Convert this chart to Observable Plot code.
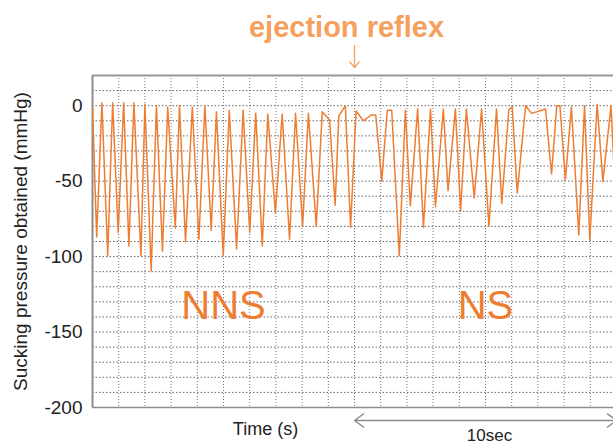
<!DOCTYPE html>
<html><head><meta charset="utf-8">
<script src="https://cdn.jsdelivr.net/npm/d3@7"></script>
<script src="https://cdn.jsdelivr.net/npm/@observablehq/plot@0.6"></script>
<style>html,body{margin:0;padding:0;background:#fff;overflow:hidden;} svg{display:block;}</style>
</head><body><div id="chart"></div>
<script>
const timeSec = [0, 0.16, 0.36, 0.58, 0.77, 0.98, 1.19, 1.39, 1.58, 1.85,
  2.00, 2.24, 2.44, 2.67, 2.87, 3.16, 3.32, 3.55, 3.81, 4.06,
  4.29, 4.53, 4.73, 4.99, 5.22, 5.50, 5.75, 6.00, 6.23, 6.48,
  6.69, 6.98, 7.24, 7.52, 7.75, 8.02, 8.24, 8.54, 8.77, 9.05,
  9.26, 9.40, 9.65, 9.85, 10.06, 10.34, 10.63, 10.81, 11.04, 11.25,
  11.42, 11.71, 11.94, 12.13, 12.41, 12.63, 12.90, 13.09, 13.39, 13.57,
  13.85, 14.05, 14.27, 14.57, 14.85, 15.13, 15.42, 15.62, 15.89, 16.02,
  16.21, 16.53, 16.76, 17.29, 17.52, 17.72, 17.84, 18.05, 18.28, 18.56,
  18.78, 18.98, 19.26, 19.48, 19.79, 20.0];
const pressure = [-1, -87, 2, -99.5, 2, -84, 2, -93, 2, -99.5,
  1, -109.5, 0, -96.5, -1, -81, 0, -90, -1, -88.5,
  0, -82.5, -4, -99.5, -3, -95, -3, -84, -5, -93,
  -5.5, -71, -5.5, -88.5, -5, -80, -5, -80, -4, -9.5,
  -66, -7, 0, -80.5, -3.5, -10, -6.2, -6.2, -50, -3,
  -3, -99.5, -3, -66.4, -2, -80.7, -2.2, -67, -2.2, -56.4,
  -2.2, -69.5, -2.2, -61.2, -2.2, -80, -2.2, -64.8, -2.9, -0.7,
  -57.8, 0, -5.1, -2.2, -45.3, 0, 0, -49, -0.7, -85.6,
  0, -89, 1, -50.2, 0, -75];
const yTickValues = [0, -50, -100, -150, -200];
const xGridValues = [1,2,3,4,5,6,7,8,9,10,11,12,13,14,15,16,17,18,19];
const yGridValues = [10,0,-10,-20,-30,-40,-50,-60,-70,-80,-90,-100,-110,-120,-130,-140,-150,-160,-170,-180,-190];
const phaseLabels = ["NNS", "NS"];
const phaseCenters = [5, 15];
const titleText = "ejection reflex";
const ejectionTime = 10;
const yLabel = "Sucking pressure obtained (mmHg)";
const xLabel = "Time (s)";
const spanLabel = "10sec";
const spanStart = 10;
const spanEnd = 20;

const series = timeSec.map((t, i) => ({t, p: pressure[i]}));
const phases = phaseLabels.map((label, i) => ({label, t: phaseCenters[i]}));
const spanMid = (spanStart + spanEnd) / 2;
const spanArrows = [{from: spanMid, to: spanStart}, {from: spanMid, to: spanEnd}];

const FONT = "'Liberation Sans', Helvetica, Arial, sans-serif";
const orange = "#ef7d31";
const lightOrange = "#f5a05c";

const chart = Plot.plot({
  width: 613, height: 445,
  marginLeft: 92, marginRight: 0, marginTop: 75, marginBottom: 38,
  x: {domain: [0, 19.885], axis: null},
  y: {domain: [-200, 20], axis: null},
  style: {fontFamily: FONT, background: "#fff", overflow: "visible"},
  marks: [
    Plot.gridX(xGridValues, {stroke: "#666", strokeOpacity: 0.9, strokeDasharray: "1,2"}),
    Plot.gridY(yGridValues, {stroke: "#555", strokeOpacity: 0.9, strokeDasharray: "1.5,2"}),
    Plot.ruleX([0], {stroke: "#8c8c8c", strokeWidth: 2}),
    Plot.ruleY([20], {stroke: "#999", strokeWidth: 2}),
    Plot.ruleY([-200], {stroke: "#8c8c8c", strokeWidth: 1.5}),
    Plot.axisY(yTickValues, {tickSize: 0, tickPadding: 10, fontSize: 19, fill: "#222", label: null, tickFormat: d => String(d)}),
    Plot.text([yLabel], {frameAnchor: "left", dx: -72, rotate: -90, fontSize: 19, fill: "#222", textAnchor: "middle", lineAnchor: "middle"}),
    Plot.line(series, {x: "t", y: "p", stroke: orange, strokeWidth: 1.5, clip: true}),
    Plot.text(phases, {x: "t", text: "label", frameAnchor: "bottom", dy: -89, lineAnchor: "bottom", fontSize: 40, fill: orange}),
    Plot.text([{t: ejectionTime, label: titleText}], {x: "t", text: "label", frameAnchor: "top", dx: -8, dy: -39, lineAnchor: "bottom", fontSize: 29, fontWeight: "bold", fill: lightOrange}),
    Plot.arrow([{t: ejectionTime}], {x: "t", y1: () => 39.9, y2: () => 25.3, stroke: lightOrange, strokeWidth: 1.3, headLength: 13, headAngle: 80}),
    Plot.arrow(spanArrows, {x1: "from", x2: "to", y1: () => -208.6, y2: () => -208.6, stroke: "#8c8c8c", strokeWidth: 1.3, headLength: 13, headAngle: 72}),
    Plot.text([xLabel], {frameAnchor: "bottom-left", dx: 173, dy: 27, textAnchor: "middle", lineAnchor: "bottom", fontSize: 18, fill: "#222"}),
    Plot.text([{t: spanMid, label: spanLabel}], {x: "t", text: "label", frameAnchor: "bottom", dx: 4, dy: 33, lineAnchor: "bottom", fontSize: 17, fill: "#222"})
  ]
});
document.getElementById("chart").appendChild(chart);
</script>
</body></html>
